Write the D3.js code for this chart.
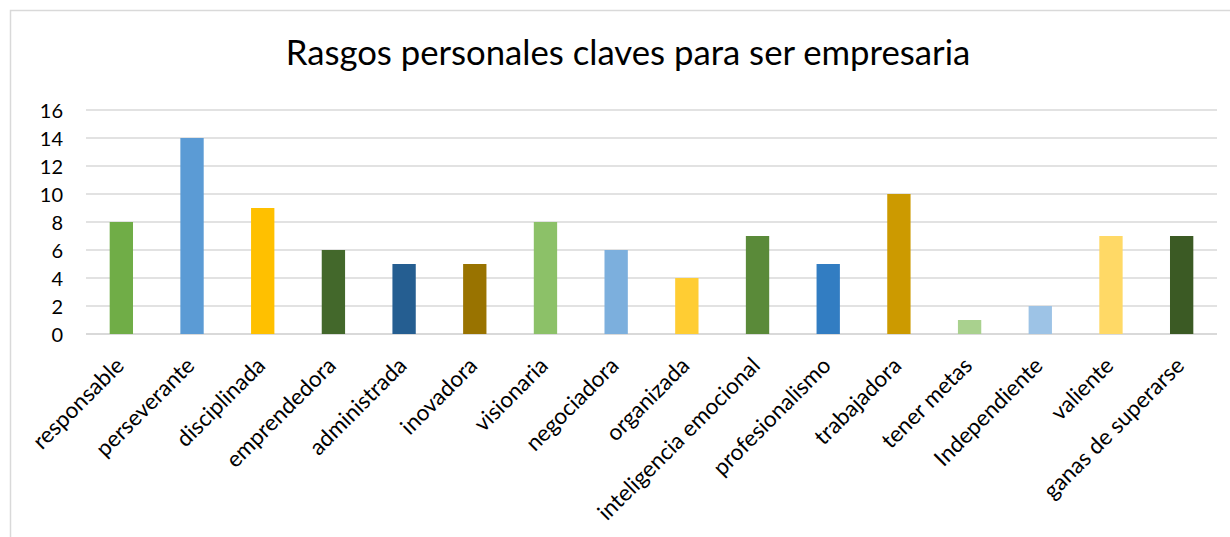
<!DOCTYPE html>
<html>
<head>
<meta charset="utf-8">
<script src="https://cdn.jsdelivr.net/npm/d3@7"></script>
<style>
  body { margin: 0; background: #fff; }
  svg text { font-family: Lato, "Open Sans", sans-serif; fill: #000; }
</style>
</head>
<body>
<svg id="chart" width="1230" height="537"></svg>
<script>
/* DATA */
var categories = ['responsable', 'perseverante', 'disciplinada', 'emprendedora', 'administrada',
  'inovadora', 'visionaria', 'negociadora', 'organizada', 'inteligencia emocional',
  'profesionalismo', 'trabajadora', 'tener metas', 'Independiente', 'valiente', 'ganas de superarse'];
var values = [8, 14, 9, 6, 5, 5, 8, 6, 4, 7, 5, 10, 1, 2, 7, 7];
var barColors = ['#70AD47', '#5B9BD5', '#FFC000', '#43682B', '#255E91', '#997300',
  '#8CC168', '#7CAFDD', '#FFCD33', '#5A8A39', '#327DC2', '#CC9A00',
  '#A9D18E', '#9DC3E6', '#FFD966', '#3B5A24'];
var yTicks = [0, 2, 4, 6, 8, 10, 12, 14, 16];
var titleText = 'Rasgos personales claves para ser empresaria';

var svg = d3.select('#chart');

/* CHART FRAME */
svg.append('rect')
  .attr('x', 10.5).attr('y', 10.5)
  .attr('width', 1240).attr('height', 560)
  .attr('fill', 'none').attr('stroke', '#D9D9D9').attr('stroke-width', 1.5);

var plot = { left: 86, right: 1217, top: 110, bottom: 334 };

var x = d3.scaleBand().domain(categories)
  .range([plot.left, plot.right])
  .paddingInner(0.67).paddingOuter(0.335);
var y = d3.scaleLinear().domain([0, 16]).range([plot.bottom, plot.top]);

/* GRIDLINES */
svg.append('g').selectAll('line')
  .data(yTicks).enter().append('line')
  .attr('x1', plot.left).attr('x2', plot.right)
  .attr('y1', function(d) { return y(d); })
  .attr('y2', function(d) { return y(d); })
  .attr('stroke', '#D9D9D9')
  .attr('stroke-width', function(d) { return d === 0 ? 2 : 1.5; });

/* Y AXIS LABELS */
var yAxis = d3.axisLeft(y).tickValues(yTicks).tickSize(0).tickPadding(0);
var yG = svg.append('g').attr('transform', 'translate(63,0)').call(yAxis);
yG.select('.domain').remove();
yG.selectAll('text')
  .style('font-family', 'Lato, "Open Sans", sans-serif')
  .style('font-size', '20px')
  .attr('dy', '0.35em');

/* BARS */
svg.append('g').selectAll('rect')
  .data(values).enter().append('rect')
  .attr('x', function(d, i) { return x(categories[i]); })
  .attr('width', x.bandwidth())
  .attr('y', function(d) { return y(d); })
  .attr('height', function(d) { return y(0) - y(d); })
  .attr('fill', function(d, i) { return barColors[i]; });

/* X LABELS (rotated) */
var xAxis = d3.axisBottom(x).tickSize(0).tickPadding(0);
var xG = svg.append('g').attr('transform', 'translate(0,' + plot.bottom + ')').call(xAxis);
xG.select('.domain').remove();
xG.selectAll('text')
  .style('font-family', 'Lato, "Open Sans", sans-serif')
  .style('font-size', '22.5px')
  .attr('text-anchor', 'end')
  .attr('dy', null)
  .attr('y', 0)
  .attr('transform', 'translate(4,33) rotate(-45)');

/* TITLE */
svg.append('text')
  .attr('x', 628).attr('y', 65)
  .attr('text-anchor', 'middle')
  .style('font-size', '34.7px')
  .text(titleText);
</script>
</body>
</html>
